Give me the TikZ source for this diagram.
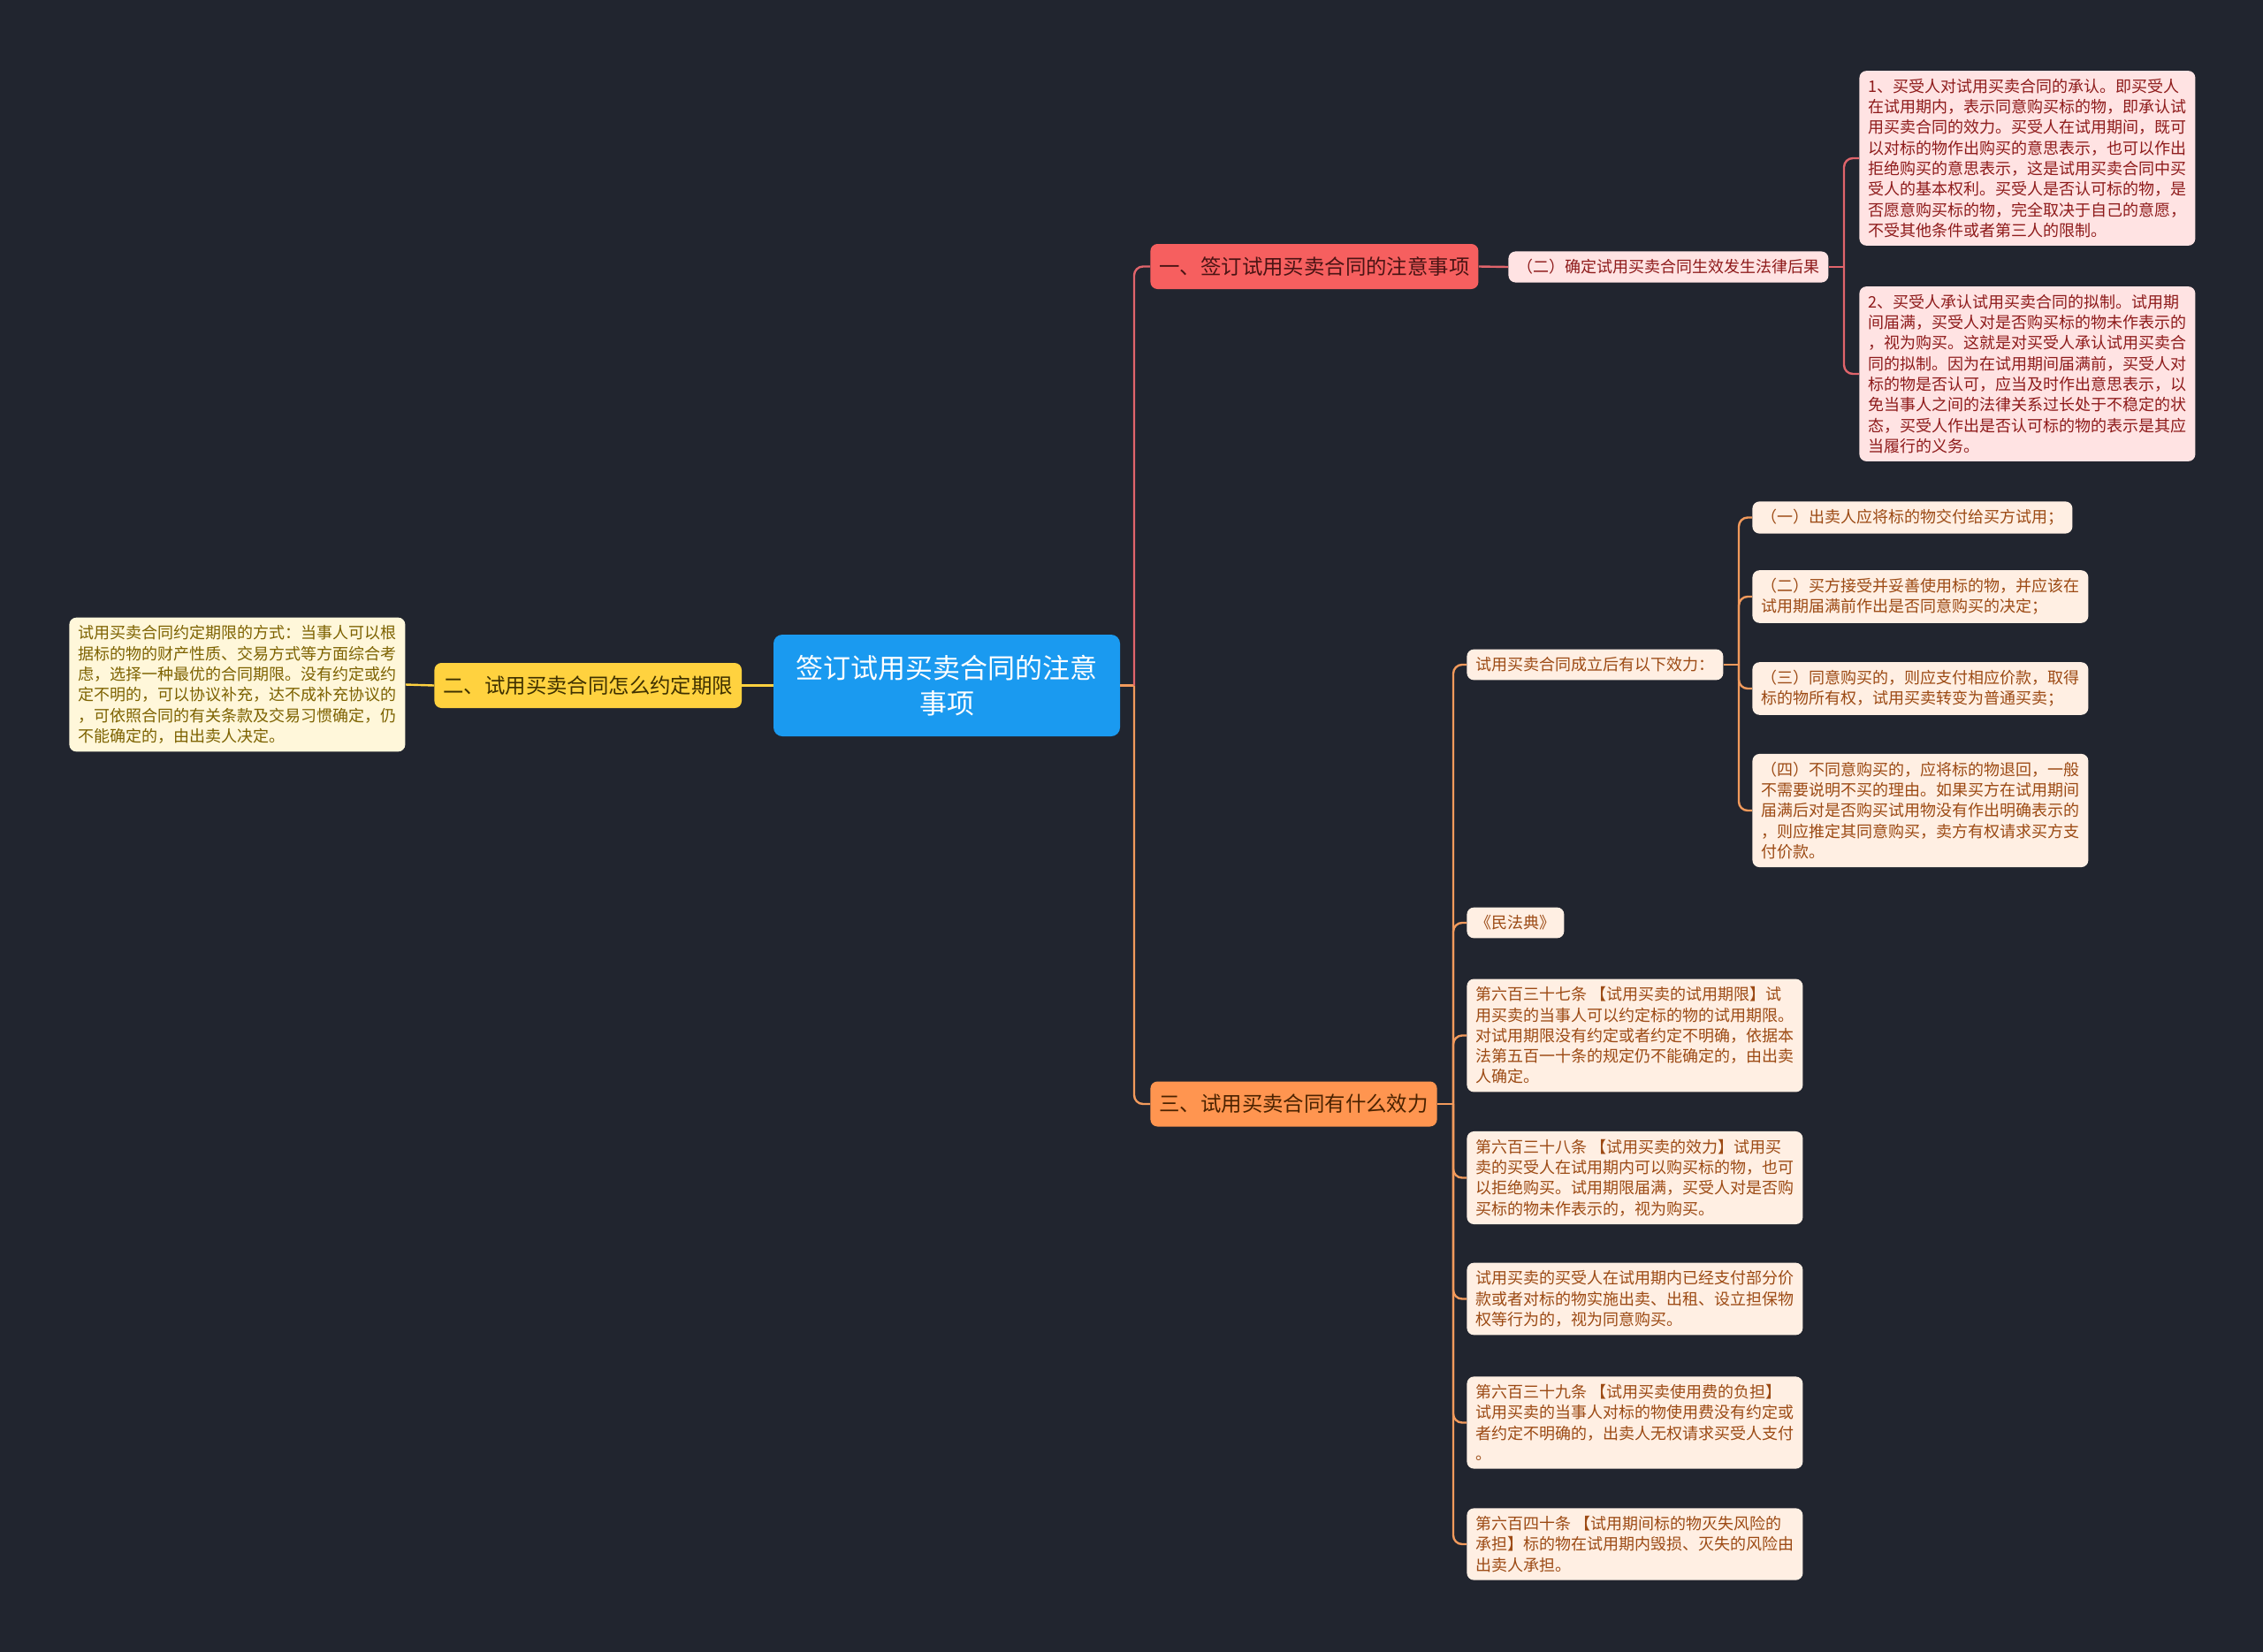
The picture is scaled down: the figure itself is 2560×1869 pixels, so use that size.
\documentclass[tikz,border=0pt]{standalone}
\usepackage{fontspec}
\setmainfont{Noto Sans CJK SC}
\usetikzlibrary{calc}
\definecolor{night}{HTML}{21252F}
\definecolor{rootBlue}{HTML}{1A9AF0}
\definecolor{redMain}{HTML}{F65F5F}
\definecolor{redInk}{HTML}{4A1414}
\definecolor{redPale}{HTML}{FFE3E3}
\definecolor{redText}{HTML}{8E1B1B}
\definecolor{redLine}{HTML}{E0646B}
\definecolor{yelMain}{HTML}{FFD23F}
\definecolor{yelInk}{HTML}{3E3000}
\definecolor{yelPale}{HTML}{FFF7DA}
\definecolor{yelText}{HTML}{7D6200}
\definecolor{orgMain}{HTML}{FF9550}
\definecolor{orgInk}{HTML}{4A2200}
\definecolor{orgPale}{HTML}{FFEFE3}
\definecolor{orgText}{HTML}{9C4A14}
\definecolor{orgLine}{HTML}{F29A5C}
\tikzset{
  card/.style={rounded corners=4pt,draw=none,inner xsep=5pt,inner ysep=4.5pt,
               align=left,anchor=west,font=\fontsize{9}{11.65}\selectfont},
  redcard/.style={card,fill=redPale,text=redText},
  yelcard/.style={card,fill=yelPale,text=yelText},
  orgcard/.style={card,fill=orgPale,text=orgText},
  topic/.style={rounded corners=4pt,draw=none,anchor=west,inner xsep=5pt,
                minimum height=25.5pt,font=\fontsize{11.7}{14}\selectfont},
  redtopic/.style={topic,fill=redMain,text=redInk},
  yeltopic/.style={topic,fill=yelMain,text=yelInk},
  orgtopic/.style={topic,fill=orgMain,text=orgInk},
  rootbox/.style={rounded corners=5pt,fill=rootBlue,text=white,align=center,
                  minimum width=196pt,minimum height=57.5pt,
                  font=\fontsize{15.5}{20}\selectfont},
  redflow/.style={draw=redLine,line width=1.2pt,rounded corners=5pt},
  orgflow/.style={draw=orgLine,line width=1.2pt,rounded corners=5pt},
  yelflow/.style={draw=yelMain,line width=1.2pt}
}
\begin{document}
\begin{tikzpicture}[x=0.5pt,y=-0.5pt]
  \fill[night] (0,0) rectangle (2560,1869);
  \useasboundingbox (0,0) rectangle (2560,1869);

  \node[rootbox] (root) at (1071,775.5) {签订试用买卖合同的注意\\事项};

  % branch one
  \node[redtopic] (b1) at (1301,301.5) {一、签订试用买卖合同的注意事项};
  \node[redcard] (n12) at (1706,302) {（二）确定试用买卖合同生效发生法律后果};
  \node[redcard] (l11) at (2103,179) {1、买受人对试用买卖合同的承认。即买受人\\
    在试用期内，表示同意购买标的物，即承认试\\
    用买卖合同的效力。买受人在试用期间，既可\\
    以对标的物作出购买的意思表示，也可以作出\\
    拒绝购买的意思表示，这是试用买卖合同中买\\
    受人的基本权利。买受人是否认可标的物，是\\
    否愿意购买标的物，完全取决于自己的意愿，\\
    不受其他条件或者第三人的限制。};
  \node[redcard] (l12) at (2103,423) {2、买受人承认试用买卖合同的拟制。试用期\\
    间届满，买受人对是否购买标的物未作表示的\\
    ，视为购买。这就是对买受人承认试用买卖合\\
    同的拟制。因为在试用期间届满前，买受人对\\
    标的物是否认可，应当及时作出意思表示，以\\
    免当事人之间的法律关系过长处于不稳定的状\\
    态，买受人作出是否认可标的物的表示是其应\\
    当履行的义务。};

  % branch two
  \node[yeltopic] (b2) at (491,775.5) {二、试用买卖合同怎么约定期限};
  \node[yelcard] (l21) at (78,774.5) {试用买卖合同约定期限的方式：当事人可以根\\
    据标的物的财产性质、交易方式等方面综合考\\
    虑，选择一种最优的合同期限。没有约定或约\\
    定不明的，可以协议补充，达不成补充协议的\\
    ，可依照合同的有关条款及交易习惯确定，仍\\
    不能确定的，由出卖人决定。};

  % branch three
  \node[orgtopic] (b3) at (1301,1249) {三、试用买卖合同有什么效力};
  \node[orgcard] (e0) at (1659,752) {试用买卖合同成立后有以下效力：};
  \node[orgcard] (e1) at (1982,585.5) {（一）出卖人应将标的物交付给买方试用；};
  \node[orgcard] (e2) at (1982,675) {（二）买方接受并妥善使用标的物，并应该在\\
    试用期届满前作出是否同意购买的决定；};
  \node[orgcard] (e3) at (1982,779) {（三）同意购买的，则应支付相应价款，取得\\
    标的物所有权，试用买卖转变为普通买卖；};
  \node[orgcard] (e4) at (1982,917) {（四）不同意购买的，应将标的物退回，一般\\
    不需要说明不买的理由。如果买方在试用期间\\
    届满后对是否购买试用物没有作出明确表示的\\
    ，则应推定其同意购买，卖方有权请求买方支\\
    付价款。};
  \node[orgcard] (o1) at (1659,1044) {《民法典》};
  \node[orgcard] (o2) at (1659,1171.5) {第六百三十七条 【试用买卖的试用期限】试\\
    用买卖的当事人可以约定标的物的试用期限。\\
    对试用期限没有约定或者约定不明确，依据本\\
    法第五百一十条的规定仍不能确定的，由出卖\\
    人确定。};
  \node[orgcard] (o3) at (1659,1332.5) {第六百三十八条 【试用买卖的效力】试用买\\
    卖的买受人在试用期内可以购买标的物，也可\\
    以拒绝购买。试用期限届满，买受人对是否购\\
    买标的物未作表示的，视为购买。};
  \node[orgcard] (o4) at (1659,1469.5) {试用买卖的买受人在试用期内已经支付部分价\\
    款或者对标的物实施出卖、出租、设立担保物\\
    权等行为的，视为同意购买。};
  \node[orgcard] (o5) at (1659,1609.5) {第六百三十九条 【试用买卖使用费的负担】\\
    试用买卖的当事人对标的物使用费没有约定或\\
    者约定不明确的，出卖人无权请求买受人支付\\
    。};
  \node[orgcard] (o6) at (1659,1747) {第六百四十条 【试用期间标的物灭失风险的\\
    承担】标的物在试用期内毁损、灭失的风险由\\
    出卖人承担。};

  % trunks
  \coordinate (tr) at (1283,0);
  \coordinate (t1) at (2086,0);
  \coordinate (t3) at (1644,0);
  \coordinate (te) at (1967,0);

  \draw[orgflow] (root.east) -- (tr |- root.east);
  \draw[redflow] (tr |- root.east) |- (b1.west);
  \draw[orgflow] (tr |- root.east) |- (b3.west);
  \draw[yelflow] (root.west) -- (b2.east);
  \draw[yelflow] (b2.west) -- (l21.east);

  \draw[redflow] (b1.east) -- (n12.west);
  \draw[redflow] (n12.east) -- (t1 |- n12.east);
  \foreach \c in {l11,l12}{\draw[redflow] (t1 |- n12.east) |- (\c.west);}

  \draw[orgflow] (b3.east) -- (t3 |- b3.east);
  \foreach \c in {e0,o1,o2,o3,o4,o5,o6}{\draw[orgflow] (t3 |- b3.east) |- (\c.west);}
  \draw[orgflow] (e0.east) -- (te |- e0.east);
  \foreach \c in {e1,e2,e3,e4}{\draw[orgflow] (te |- e0.east) |- (\c.west);}
\end{tikzpicture}
\end{document}
